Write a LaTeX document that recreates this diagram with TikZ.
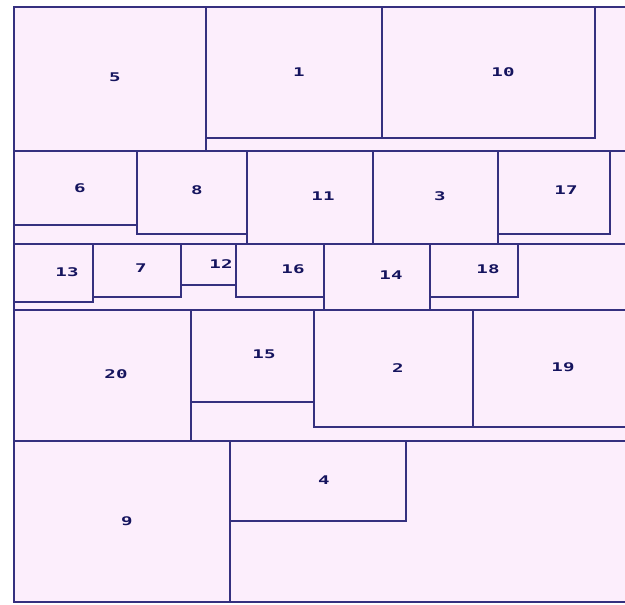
\documentclass[tikz,border=0pt]{standalone}
\usepackage{fontspec}
\newfontfamily\cellfont{DejaVu Sans Mono}
\definecolor{edge}{HTML}{35307F}
\definecolor{pinkfill}{HTML}{FCEEFC}
\definecolor{labtext}{HTML}{15145E}
\tikzset{cell/.style={draw=edge,line width=1.5bp},
  lab/.style={text=labtext,inner sep=0pt,font=\cellfont\bfseries\fontsize{12}{12}\selectfont}}
\begin{document}
\begin{tikzpicture}[x=1bp,y=-1bp]
\useasboundingbox(0,0)rectangle(625,605);\clip(0,0)rectangle(625,605);
\fill[pinkfill](14,7)rectangle(625,602);
% rows
\foreach \a/\b in {7/151,151/244,244/310,310/441,441/602}{\draw[cell](14,\a)rectangle(640,\b);}
% cells
\foreach \x/\y/\X/\Y in {14/7/206/151,206/7/382/138,382/7/595/138,
  14/151/137/225,137/151/247/234,247/151/373/244,373/151/498/244,498/151/610/234,
  14/244/93/302,93/244/181/297,181/244/236/285,236/244/324/297,324/244/430/310,430/244/518/297,
  14/310/191/441,191/310/314/402,314/310/473/427,473/310/640/427,
  14/441/230/602,230/441/406/521}{\draw[cell](\x,\y)rectangle(\X,\Y);}
\foreach \n/\x/\y in {5/115/77,1/299/72,10/503/72,6/80/188,8/197/190,11/323/196,3/440/196,17/566/190,
  13/67/272,7/141/268,12/221/264,16/293/269,14/391/275,18/488/269,
  20/116/374,15/264/354,2/398/368,19/563/367,9/127/521,4/324/480}
  {\node[lab](n\n) at(\x,\y){\scalebox{1.6}[1]{\n}};}
\end{tikzpicture}
\end{document}
